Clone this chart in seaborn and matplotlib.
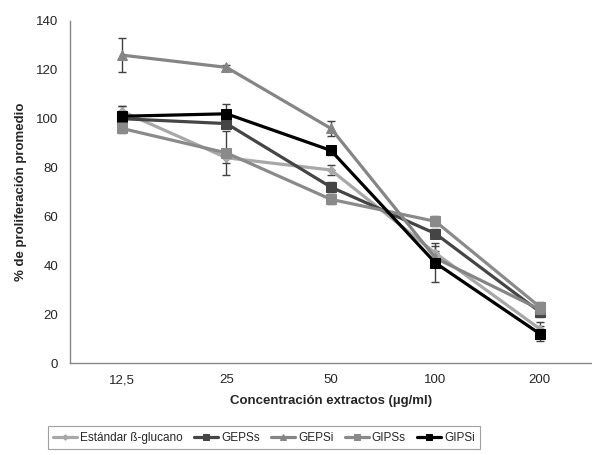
import numpy as np
import pandas as pd
import matplotlib
matplotlib.use("Agg")
import matplotlib.pyplot as plt
import seaborn as sns

# concentrations (categorical x axis)
concentrations = ["12,5", "25", "50", "100", "200"]

# mean proliferation per extract
estandar = [103, 84, 79, 45, 14]
gepss = [100, 98, 72, 53, 21]
gepsi = [126, 121, 96, 43, 22]
gipss = [96, 86, 67, 58, 23]
gipsi = [101, 102, 87, 41, 12]

# error bars (rough)
estandar_err = [2, 2, 2, 3, 3]
gepss_err = [3, 2, 2, 2, 2]
gepsi_err = [7, 1, 3, 3, 2]
gipss_err = [2, 9, 2, 2, 2]
gipsi_err = [4, 4, 2, 8, 3]

series_names = ["Estándar ß-glucano", "GEPSs", "GEPSi", "GIPSs", "GIPSi"]
colors = ["#a8a8a8", "#454545", "#858585", "#8a8a8a", "#000000"]
markers = ["D", "s", "^", "s", "s"]
msizes = [4, 7, 7, 7, 7]

values = [estandar, gepss, gepsi, gipss, gipsi]
errors = [estandar_err, gepss_err, gepsi_err, gipss_err, gipsi_err]

rows = []
for name, vals in zip(series_names, values):
    for i, v in enumerate(vals):
        rows.append({"pos": i, "serie": name, "valor": v})
df = pd.DataFrame(rows)

sns.set_style("white")
plt.rcParams["font.family"] = ["Liberation Sans Narrow", "Liberation Sans", "DejaVu Sans"]

fig = plt.figure(figsize=(5.92, 4.55), dpi=100)
ax = fig.add_axes([0.118, 0.202, 0.882, 0.752])

# error bars first so lines sit above them
for vals, errs in zip(values, errors):
    ax.errorbar(range(len(vals)), vals, yerr=errs, fmt="none", ecolor="#404040",
                elinewidth=1, capsize=3, capthick=1, zorder=1)

palette = dict(zip(series_names, colors))
for name, m, ms in zip(series_names, markers, msizes):
    sub = df[df["serie"] == name]
    sns.lineplot(data=sub, x="pos", y="valor", color=palette[name], marker=m,
                 markersize=ms, markeredgecolor=palette[name], linewidth=2.3,
                 label=name, ax=ax, zorder=3)

ax.set_xlim(-0.5, 4.5)
ax.set_ylim(0, 140)
ax.set_yticks(np.arange(0, 141, 20))
ax.set_xticks(np.arange(-0.5, 4.6, 1.0))
ax.set_xticklabels([])
ax.set_xticks(range(len(concentrations)), minor=True)
ax.set_xticklabels(concentrations, minor=True)
ax.tick_params(axis="x", which="minor", length=0, labelsize=9.5, pad=8)
ax.tick_params(axis="x", which="major", length=5, width=1, color="#555555", direction="out")
ax.tick_params(axis="y", length=5, width=1, color="#555555", direction="out", labelsize=9.5)

for s in ["top", "right"]:
    ax.spines[s].set_visible(False)
for s in ["left", "bottom"]:
    ax.spines[s].set_color("#888888")
    ax.spines[s].set_linewidth(1)

ax.set_xlabel("Concentración extractos (µg/ml)", fontsize=9.5, fontweight="bold", labelpad=6)
ax.set_ylabel("% de proliferación promedio", fontsize=9.5, fontweight="bold", labelpad=6)

handles, labels = ax.get_legend_handles_labels()
if ax.legend_:
    ax.legend_.remove()
leg = fig.legend(handles, labels, loc="lower center", bbox_to_anchor=(0.446, 0.0),
                 ncol=5, frameon=True, fancybox=False, edgecolor="#888888",
                 fontsize=8.5, handlelength=2.0, handletextpad=0.25, columnspacing=1.0,
                 borderpad=0.45, markerscale=0.7)
leg.get_frame().set_linewidth(0.8)

fig.savefig("out.png", dpi=100)
